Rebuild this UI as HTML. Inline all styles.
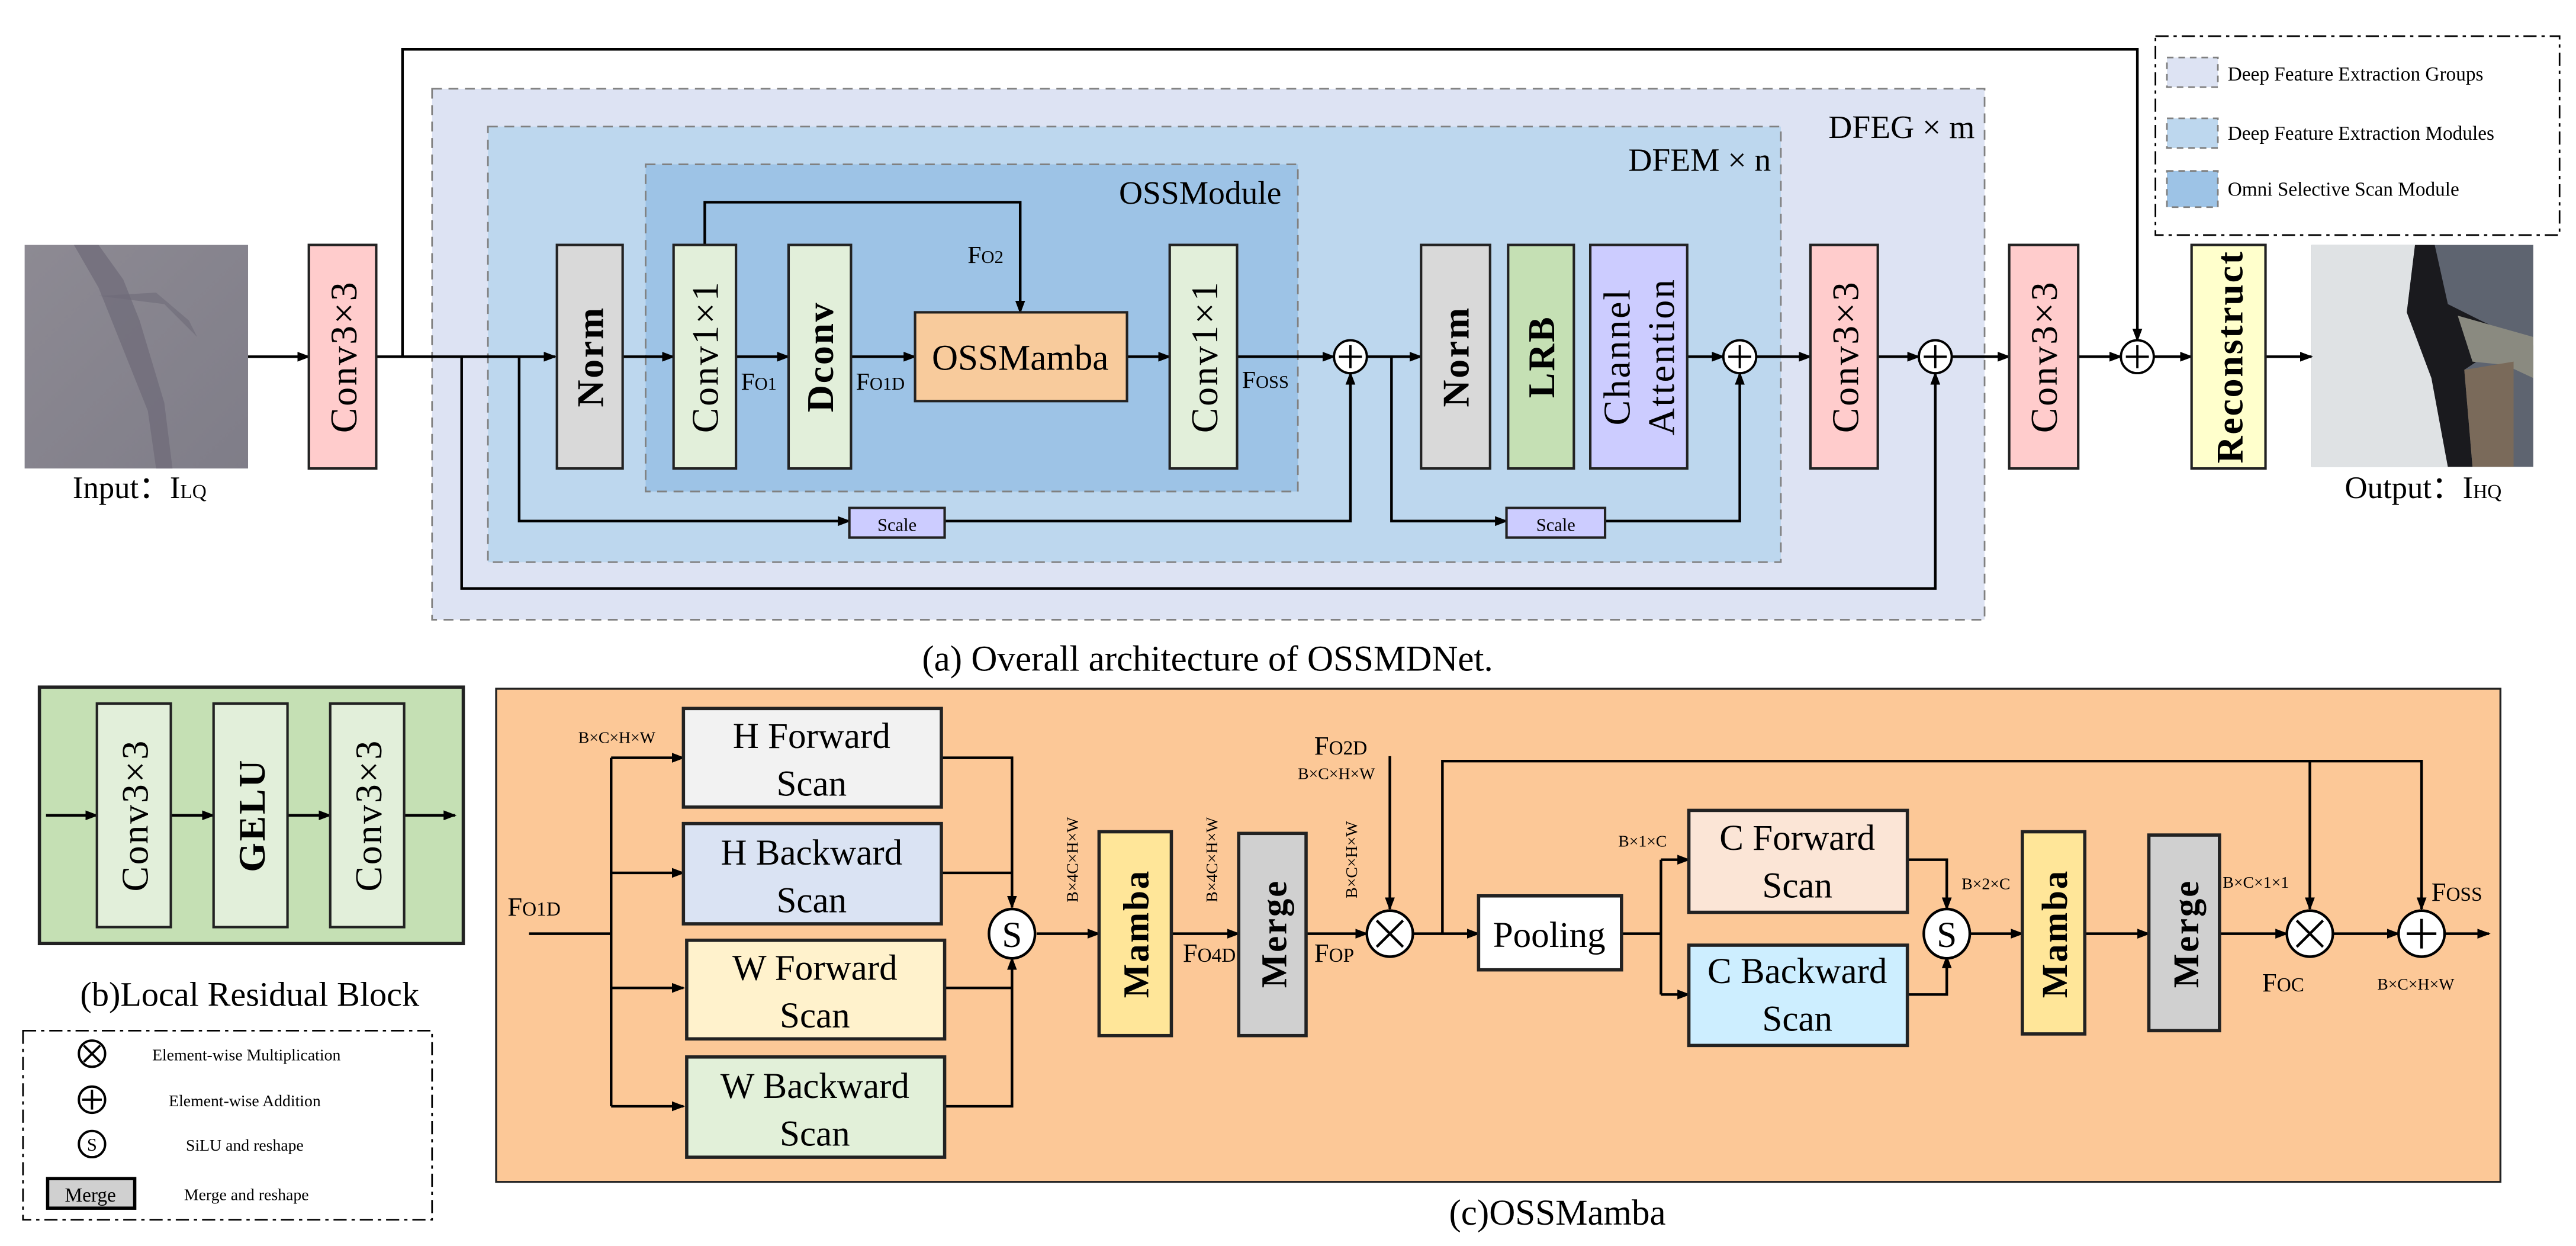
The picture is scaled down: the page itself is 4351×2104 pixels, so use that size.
<!DOCTYPE html>
<html><head><meta charset="utf-8"><style>
html,body{margin:0;padding:0;background:#fff}
svg{display:block}
svg text{font-family:"Liberation Serif","DejaVu Serif",serif;fill:#000}
</style></head><body>
<svg width="4351" height="2104" viewBox="0 0 1568 758" preserveAspectRatio="none" xmlns="http://www.w3.org/2000/svg" font-family="Liberation Serif, DejaVu Serif, serif">
<defs>
<marker id="a" markerWidth="8" markerHeight="8" refX="7" refY="4" orient="auto" markerUnits="userSpaceOnUse"><path d="M0,1 L8,4 L0,7 Z" fill="#000"/></marker>
<linearGradient id="ng" x1="0" y1="0" x2="1" y2="1"><stop offset="0" stop-color="#8d8a93"/><stop offset="1" stop-color="#7f7d88"/></linearGradient>
</defs>
<g stroke="#000" stroke-width="1.6" fill="none">
<polyline points="245,217 245,30 1301,30 1301,207" marker-end="url(#a)"/>
</g>
<rect x="263" y="54" width="945" height="323" fill="#dde3f3" stroke="#808080" stroke-width="1" stroke-dasharray="6,4"/>
<rect x="297" y="77" width="787" height="265" fill="#bdd7ee" stroke="#808080" stroke-width="1" stroke-dasharray="6,4"/>
<rect x="393" y="100" width="397" height="199" fill="#9dc3e6" stroke="#808080" stroke-width="1" stroke-dasharray="6,4"/>
<text x="780" y="124" font-size="20" text-anchor="end">OSSModule</text>
<text x="1078" y="104" font-size="20" text-anchor="end">DFEM × n</text>
<text x="1202" y="84" font-size="20" text-anchor="end">DFEG × m</text>
<rect x="15" y="149" width="136" height="136" fill="url(#ng)"/>
<path d="M45,149 L60,175 L70,200 L90,250 L95,285 L105,285 L100,245 L85,195 L75,170 L60,149 Z" fill="#6e6a78" opacity="0.7"/>
<path d="M60,180 L100,185 L120,205 L115,195 L95,178 Z" fill="#6e6a78" opacity="0.6"/>
<text x="85" y="303" font-size="19" text-anchor="middle">Input：I<tspan font-size="12">LQ</tspan></text>
<rect x="1407" y="149" width="135" height="135" fill="#5e6470"/>
<path d="M1407,149 L1470,149 L1465,190 L1480,230 L1490,284 L1407,284 Z" fill="#dfe2e4"/>
<path d="M1470,149 L1482,149 L1490,185 L1510,195 L1542,210 L1542,225 L1515,215 L1500,225 L1505,284 L1490,284 L1480,230 L1465,190 Z" fill="#1a1a1e"/>
<path d="M1496,192 L1542,205 L1542,230 L1525,222 L1505,220 Z" fill="#8a8a80"/>
<path d="M1500,225 L1530,220 L1530,284 L1505,284 Z" fill="#7a6a5a"/>
<text x="1475" y="303" font-size="19" text-anchor="middle">Output：I<tspan font-size="12">HQ</tspan></text>
<rect x="1312" y="22" width="246" height="121" fill="#fff" stroke="#000" stroke-width="1" stroke-dasharray="8,3,2,3"/>
<rect x="1319" y="35" width="31" height="18" fill="#dde3f3" stroke="#808080" stroke-dasharray="4,3"/>
<rect x="1319" y="72" width="31" height="18" fill="#bdd7ee" stroke="#808080" stroke-dasharray="4,3"/>
<rect x="1319" y="104" width="31" height="22" fill="#9dc3e6" stroke="#808080" stroke-dasharray="4,3"/>
<text x="1356" y="49" font-size="12">Deep Feature Extraction Groups</text>
<text x="1356" y="85" font-size="12">Deep Feature Extraction Modules</text>
<text x="1356" y="119" font-size="12">Omni Selective Scan Module</text>
<g stroke="#000" stroke-width="1.6" fill="none">
<line x1="151" y1="217" x2="188" y2="217" marker-end="url(#a)"/>
<line x1="229" y1="217" x2="338" y2="217" marker-end="url(#a)"/>
<polyline points="281,217 281,358 1178,358 1178,227" marker-end="url(#a)"/>
<polyline points="316,217 316,317 517,317" marker-end="url(#a)"/>
<polyline points="575,317 822,317 822,227" marker-end="url(#a)"/>
<line x1="379" y1="217" x2="410" y2="217" marker-end="url(#a)"/>
<line x1="448" y1="217" x2="480" y2="217" marker-end="url(#a)"/>
<line x1="518" y1="217" x2="557" y2="217" marker-end="url(#a)"/>
<polyline points="429,149 429,123 621,123 621,190" marker-end="url(#a)"/>
<line x1="686" y1="217" x2="712" y2="217" marker-end="url(#a)"/>
<line x1="753" y1="217" x2="812" y2="217" marker-end="url(#a)"/>
<line x1="832" y1="217" x2="865" y2="217" marker-end="url(#a)"/>
<polyline points="847,217 847,317 917,317" marker-end="url(#a)"/>
<polyline points="977,317 1059,317 1059,227" marker-end="url(#a)"/>
<line x1="1027" y1="217" x2="1049" y2="217" marker-end="url(#a)"/>
<line x1="1069" y1="217" x2="1102" y2="217" marker-end="url(#a)"/>
<line x1="1143" y1="217" x2="1168" y2="217" marker-end="url(#a)"/>
<line x1="1188" y1="217" x2="1223" y2="217" marker-end="url(#a)"/>
<line x1="1265" y1="217" x2="1291" y2="217" marker-end="url(#a)"/>
<line x1="1311" y1="217" x2="1334" y2="217" marker-end="url(#a)"/>
<line x1="1379" y1="217" x2="1407" y2="217" marker-end="url(#a)"/>
</g>
<g stroke="#222" stroke-width="1.5">
<rect x="188" y="149" width="41" height="136" fill="#ffcccc"/>
<rect x="339" y="149" width="40" height="136" fill="#d9d9d9"/>
<rect x="410" y="149" width="38" height="136" fill="#e2efda"/>
<rect x="480" y="149" width="38" height="136" fill="#e2efda"/>
<rect x="557" y="190" width="129" height="54" fill="#f8cb9c"/>
<rect x="712" y="149" width="41" height="136" fill="#e2efda"/>
<rect x="865" y="149" width="42" height="136" fill="#d9d9d9"/>
<rect x="918" y="149" width="40" height="136" fill="#c5e0b4"/>
<rect x="968" y="149" width="59" height="136" fill="#ccccff"/>
<rect x="1102" y="149" width="41" height="136" fill="#ffcccc"/>
<rect x="1223" y="149" width="42" height="136" fill="#ffcccc"/>
<rect x="1334" y="149" width="45" height="136" fill="#ffffcc"/>
<rect x="517" y="309" width="58" height="18" fill="#ccccff"/>
<rect x="917" y="309" width="60" height="18" fill="#ccccff"/>
</g>
<g font-size="23" text-anchor="middle" letter-spacing="1">
<text transform="translate(217,217) rotate(-90)">Conv3×3</text>
<text transform="translate(367,217) rotate(-90)" font-weight="bold">Norm</text>
<text transform="translate(437,217) rotate(-90)">Conv1×1</text>
<text transform="translate(507,217) rotate(-90)" font-weight="bold">Dconv</text>
<text transform="translate(741,217) rotate(-90)">Conv1×1</text>
<text transform="translate(894,217) rotate(-90)" font-weight="bold">Norm</text>
<text transform="translate(946,217) rotate(-90)" font-weight="bold">LRB</text>
<text transform="translate(992,217) rotate(-90)">Channel</text>
<text transform="translate(1019,217) rotate(-90)">Attention</text>
<text transform="translate(1131,217) rotate(-90)">Conv3×3</text>
<text transform="translate(1252,217) rotate(-90)">Conv3×3</text>
<text transform="translate(1365,217) rotate(-90)" font-weight="bold">Reconstruct</text>
</g>
<text x="621" y="225" font-size="22" text-anchor="middle">OSSMamba</text>
<text x="546" y="323" font-size="11" text-anchor="middle">Scale</text>
<text x="947" y="323" font-size="11" text-anchor="middle">Scale</text>
<g font-size="15">
<text x="451" y="237">F<tspan font-size="11">O1</tspan></text>
<text x="521" y="237">F<tspan font-size="11">O1D</tspan></text>
<text x="589" y="160">F<tspan font-size="11">O2</tspan></text>
<text x="756" y="236">F<tspan font-size="11">OSS</tspan></text>
</g>
<g stroke="#000" stroke-width="1.4" fill="#fff">
<circle cx="822" cy="217" r="10"/><circle cx="1059" cy="217" r="10"/><circle cx="1178" cy="217" r="10"/><circle cx="1301" cy="217" r="10"/>
<path d="M815,217h14M822,210v14M1052,217h14M1059,210v14M1171,217h14M1178,210v14M1294,217h14M1301,210v14"/>
</g>
<text x="735" y="408" font-size="22" text-anchor="middle">(a) Overall architecture of OSSMDNet.</text>

<rect x="24" y="418" width="258" height="156" fill="#c5e0b4" stroke="#222" stroke-width="2"/>
<g stroke="#000" stroke-width="1.6" fill="none">
<line x1="28" y1="496" x2="59" y2="496" marker-end="url(#a)"/>
<line x1="104" y1="496" x2="130" y2="496" marker-end="url(#a)"/>
<line x1="175" y1="496" x2="201" y2="496" marker-end="url(#a)"/>
<line x1="246" y1="496" x2="277" y2="496" marker-end="url(#a)"/>
</g>
<g stroke="#222" stroke-width="1.5" fill="#e2efda">
<rect x="59" y="428" width="45" height="136"/><rect x="130" y="428" width="45" height="136"/><rect x="201" y="428" width="45" height="136"/>
</g>
<g font-size="23" text-anchor="middle" letter-spacing="1">
<text transform="translate(90,496) rotate(-90)">Conv3×3</text>
<text transform="translate(161,496) rotate(-90)" font-weight="bold">GELU</text>
<text transform="translate(232,496) rotate(-90)">Conv3×3</text>
</g>
<text x="152" y="612" font-size="21" text-anchor="middle">(b)Local Residual Block</text>
<rect x="14" y="627" width="249" height="115" fill="#fff" stroke="#000" stroke-width="1" stroke-dasharray="8,3,2,3"/>
<g stroke="#000" stroke-width="1.4" fill="#fff">
<circle cx="56" cy="641" r="8"/><path d="M51,636l10,10M61,636l-10,10"/>
<circle cx="56" cy="669" r="8"/><path d="M50,669h12M56,663v12"/>
<circle cx="56" cy="696" r="8"/>
<rect x="29" y="717" width="53" height="18" fill="#d0d0d0" stroke-width="2"/>
</g>
<text x="56" y="700" font-size="11" text-anchor="middle">S</text>
<text x="55" y="731" font-size="12" text-anchor="middle">Merge</text>
<g font-size="10" text-anchor="middle">
<text x="150" y="645">Element-wise Multiplication</text>
<text x="149" y="673">Element-wise Addition</text>
<text x="149" y="700">SiLU and reshape</text>
<text x="150" y="730">Merge and reshape</text>
</g>

<rect x="302" y="419" width="1220" height="300" fill="#fcc897" stroke="#222" stroke-width="1.2"/>
<g stroke="#000" stroke-width="1.6" fill="none">
<line x1="322" y1="568" x2="372" y2="568"/>
<line x1="372" y1="461" x2="372" y2="673"/>
<line x1="372" y1="461" x2="416" y2="461" marker-end="url(#a)"/>
<line x1="372" y1="531" x2="416" y2="531" marker-end="url(#a)"/>
<line x1="372" y1="601" x2="416" y2="601" marker-end="url(#a)"/>
<line x1="372" y1="673" x2="416" y2="673" marker-end="url(#a)"/>
<polyline points="573,461 616,461 616,552" marker-end="url(#a)"/>
<line x1="573" y1="531" x2="616" y2="531"/>
<polyline points="573,673 616,673 616,583" marker-end="url(#a)"/>
<line x1="573" y1="601" x2="616" y2="601"/>
<line x1="631" y1="568" x2="669" y2="568" marker-end="url(#a)"/>
<line x1="713" y1="568" x2="754" y2="568" marker-end="url(#a)"/>
<line x1="795" y1="568" x2="832" y2="568" marker-end="url(#a)"/>
<line x1="846" y1="460" x2="846" y2="553" marker-end="url(#a)"/>
<line x1="860" y1="568" x2="900" y2="568" marker-end="url(#a)"/>
<polyline points="878,568 878,463 1474,463 1474,553" marker-end="url(#a)"/>
<line x1="1406" y1="463" x2="1406" y2="553" marker-end="url(#a)"/>
<line x1="987" y1="568" x2="1011" y2="568"/>
<polyline points="1011,523 1011,605"/>
<line x1="1011" y1="523" x2="1028" y2="523" marker-end="url(#a)"/>
<line x1="1011" y1="605" x2="1028" y2="605" marker-end="url(#a)"/>
<polyline points="1161,523 1185,523 1185,553" marker-end="url(#a)"/>
<polyline points="1161,605 1185,605 1185,582" marker-end="url(#a)"/>
<line x1="1199" y1="568" x2="1231" y2="568" marker-end="url(#a)"/>
<line x1="1269" y1="568" x2="1308" y2="568" marker-end="url(#a)"/>
<line x1="1351" y1="568" x2="1392" y2="568" marker-end="url(#a)"/>
<line x1="1420" y1="568" x2="1460" y2="568" marker-end="url(#a)"/>
<line x1="1488" y1="568" x2="1515" y2="568" marker-end="url(#a)"/>
</g>
<g stroke="#222" stroke-width="2">
<rect x="416" y="431" width="157" height="60" fill="#f2f2f2"/>
<rect x="416" y="501" width="157" height="61" fill="#dae3f3"/>
<rect x="418" y="572" width="157" height="60" fill="#fff2cc"/>
<rect x="418" y="643" width="157" height="61" fill="#e2f0d9"/>
<rect x="669" y="506" width="44" height="124" fill="#ffe699"/>
<rect x="754" y="507" width="41" height="123" fill="#d0d0d0"/>
<rect x="900" y="545" width="87" height="45" fill="#fff"/>
<rect x="1028" y="493" width="133" height="62" fill="#fbe5d6"/>
<rect x="1028" y="575" width="133" height="61" fill="#cdeeff"/>
<rect x="1231" y="506" width="38" height="123" fill="#ffe699"/>
<rect x="1308" y="508" width="43" height="119" fill="#d0d0d0"/>
</g>
<g font-size="22" text-anchor="middle">
<text x="494" y="455">H Forward</text><text x="494" y="484">Scan</text>
<text x="494" y="526">H Backward</text><text x="494" y="555">Scan</text>
<text x="496" y="596">W Forward</text><text x="496" y="625">Scan</text>
<text x="496" y="668">W Backward</text><text x="496" y="697">Scan</text>
<text x="943" y="576">Pooling</text>
<text x="1094" y="517">C Forward</text><text x="1094" y="546">Scan</text>
<text x="1094" y="598">C Backward</text><text x="1094" y="627">Scan</text>
</g>
<g font-size="22" text-anchor="middle" font-weight="bold" letter-spacing="1">
<text transform="translate(699,568) rotate(-90)">Mamba</text>
<text transform="translate(783,568) rotate(-90)">Merge</text>
<text transform="translate(1258,568) rotate(-90)">Mamba</text>
<text transform="translate(1338,568) rotate(-90)">Merge</text>
</g>
<g stroke="#000" stroke-width="1.6" fill="#fff">
<ellipse cx="616" cy="568" rx="14" ry="15"/>
<ellipse cx="1185" cy="568" rx="14" ry="15"/>
<circle cx="846" cy="568" r="14"/><path d="M838,560l16,16M854,560l-16,16"/>
<circle cx="1406" cy="568" r="14"/><path d="M1398,560l16,16M1414,560l-16,16"/>
<circle cx="1474" cy="568" r="14"/><path d="M1465,568h18M1474,559v18"/>
</g>
<text x="616" y="576" font-size="22" text-anchor="middle">S</text>
<text x="1185" y="576" font-size="22" text-anchor="middle">S</text>
<g font-size="10">
<text x="352" y="452">B×C×H×W</text>
<text x="790" y="474">B×C×H×W</text>
<text x="985" y="515">B×1×C</text>
<text x="1194" y="541">B×2×C</text>
<text x="1353" y="540">B×C×1×1</text>
<text x="1447" y="602">B×C×H×W</text>
<text transform="translate(656,523) rotate(-90)" text-anchor="middle">B×4C×H×W</text>
<text transform="translate(741,523) rotate(-90)" text-anchor="middle">B×4C×H×W</text>
<text transform="translate(826,523) rotate(-90)" text-anchor="middle">B×C×H×W</text>
</g>
<g font-size="16">
<text x="309" y="557">F<tspan font-size="12">O1D</tspan></text>
<text x="720" y="585">F<tspan font-size="12">O4D</tspan></text>
<text x="800" y="585">F<tspan font-size="12">OP</tspan></text>
<text x="800" y="459">F<tspan font-size="12">O2D</tspan></text>
<text x="1377" y="603">F<tspan font-size="12">OC</tspan></text>
<text x="1480" y="548">F<tspan font-size="12">OSS</tspan></text>
</g>
<text x="948" y="745" font-size="22" text-anchor="middle">(c)OSSMamba</text>
</svg>
</body></html>
